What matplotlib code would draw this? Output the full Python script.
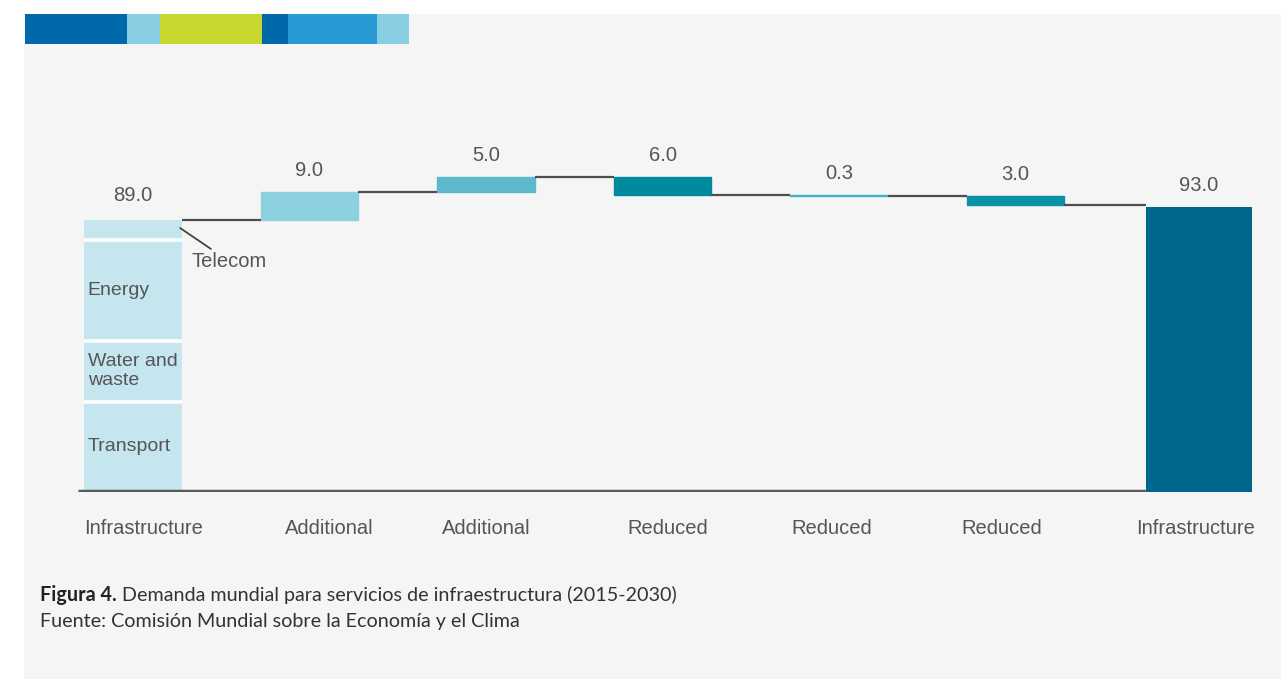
import matplotlib
matplotlib.use("Agg")
import matplotlib.pyplot as plt
from matplotlib.patches import Rectangle
import numpy as np

# ---- data ----
categories = ['Infrastructure', 'Additional', 'Additional', 'Reduced', 'Reduced', 'Reduced', 'Infrastructure']
changes = [89.0, 9.0, 5.0, -6.0, -0.3, -3.0, 93.0]
value_labels = ['89.0', '9.0', '5.0', '6.0', '0.3', '3.0', '93.0']
segment_names = ['Transport', 'Water and\nwaste', 'Energy', 'Telecom']
segment_values = [29.5, 20.0, 33.0, 6.5]
bar_colors = ['#c5e6ef', '#8dd0e0', '#5db8cb', '#008a9e', '#40b5c9', '#0a91a6', '#00678c']

W, H = 1281, 679
fig = plt.figure(figsize=(W / 100, H / 100), dpi=100)
fig.patch.set_facecolor('white')

BG = '#f5f5f5'
# grey panel
fig.add_artist(Rectangle((24 / W, 0), 1 - 24 / W, 1 - 14 / H, transform=fig.transFigure,
                         facecolor=BG, edgecolor='none', zorder=0))
# top colour strip
strip = [(25, 127, '#0069aa'), (127, 160, '#88cfe3'), (160, 262, '#c8d630'),
         (262, 288, '#0069aa'), (288, 377, '#2a9ad6'), (377, 409, '#88cfe3')]
for x0, x1, c in strip:
    fig.add_artist(Rectangle((x0 / W, 1 - 44 / H), (x1 - x0) / W, 30 / H,
                             transform=fig.transFigure, facecolor=c, edgecolor='none', zorder=1))

# main axes
px_per_x = 176.5
x_lo, x_hi = -0.35, 6.45
left_px = 133 + x_lo * px_per_x
ymax = 115
px_per_y = 3.06
ax = fig.add_axes([left_px / W, (H - 492) / H, (x_hi - x_lo) * px_per_x / W, ymax * px_per_y / H])
ax.set_xlim(x_lo, x_hi)
ax.set_ylim(0, ymax)
ax.patch.set_alpha(0)
for s in ax.spines.values():
    s.set_visible(False)
ax.set_xticks([])
ax.set_yticks([])

FONT = 'Liberation Sans'
TXT = '#555555'
FS = 14.5

n = len(changes)
xs = np.arange(n, dtype=float)
xs[-1] += 0.04
widths = [0.555] * (n - 1) + [0.6]

# first stacked bar
bottom = 0.0
x_left0 = xs[0] - widths[0] / 2
for k, (name, val) in enumerate(zip(segment_names, segment_values)):
    ax.bar(xs[0], val, width=widths[0], bottom=bottom, color=bar_colors[0],
           edgecolor='none', zorder=2)
    if k > 0:
        ax.hlines(bottom, x_left0, x_left0 + widths[0], color='white', lw=2.6, zorder=2.5)
    if name != 'Telecom':
        ax.text(x_left0 + 0.02, bottom + val / 2, name, ha='left', va='center',
                fontsize=14, color=TXT, family=FONT, linespacing=1.2, zorder=3)
    bottom += val
tel_mid = bottom - segment_values[-1] / 2
ax.annotate('Telecom', xy=(xs[0] + widths[0] / 2 - 0.01, tel_mid + 0.5), xytext=(8, -17),
            textcoords='offset points', ha='left', va='top', fontsize=FS, color=TXT, family=FONT,
            arrowprops=dict(arrowstyle='-', color='#444444', lw=1.3, shrinkA=0, shrinkB=0))

# waterfall steps
levels = [changes[0]]
running = changes[0]
for i in range(1, n - 1):
    d = changes[i]
    b = running if d >= 0 else running + d
    ax.bar(xs[i], abs(d), width=widths[i], bottom=b, color=bar_colors[i],
           edgecolor=bar_colors[i], linewidth=1.0, zorder=2)
    running += d
    levels.append(running)
# final bar
ax.bar(xs[-1], changes[-1], width=widths[-1], bottom=0, color=bar_colors[-1],
       edgecolor='none', zorder=2)

# baseline
ax.hlines(0.3, -0.31, xs[-1] - widths[-1] / 2, color='#5a5a5a', lw=2.5, zorder=4)

# connectors
for i in range(n - 1):
    x0 = xs[i] + widths[i] / 2
    x1 = xs[i + 1] - widths[i + 1] / 2
    ax.hlines(levels[i], x0, x1, color='#4d4d4d', lw=1.6, zorder=3)

# value labels
tops = [changes[0]]
run = changes[0]
for i in range(1, n - 1):
    tops.append(max(run, run + changes[i]))
    run += changes[i]
tops.append(changes[-1])
for i in range(n):
    extra = 2 if i == 0 else 0
    ax.annotate(value_labels[i], xy=(xs[i], tops[i]), xytext=(0, 15.5 + extra),
                textcoords='offset points', ha='center', va='center',
                fontsize=FS, color=TXT, family=FONT)

# category labels
label_offsets = [0.06, 0.11, 0.0, 0.03, -0.04, -0.08, -0.02]
for i in range(n):
    ax.text(xs[i] + label_offsets[i], -12, categories[i], ha='center', va='center',
            fontsize=FS, color=TXT, family=FONT, clip_on=False)

# caption
cap_font = 'Lato'
CFS = 14.2
t1 = fig.text(40 / W, 1 - 601 / H, 'Figura 4.', fontsize=CFS, fontweight='bold',
              family=cap_font, color='#222222', va='baseline', ha='left')
fig.canvas.draw()
bb = t1.get_window_extent()
fig.text(bb.x1 / W + 5 / W, 1 - 601 / H, 'Demanda mundial para servicios de infraestructura (2015-2030)',
         fontsize=CFS, family=cap_font, color='#333333', va='baseline', ha='left')
fig.text(40 / W, 1 - 627 / H, 'Fuente: Comisión Mundial sobre la Economía y el Clima',
         fontsize=CFS, family=cap_font, color='#333333', va='baseline', ha='left')

fig.savefig('out.png', dpi=100, facecolor='white')
